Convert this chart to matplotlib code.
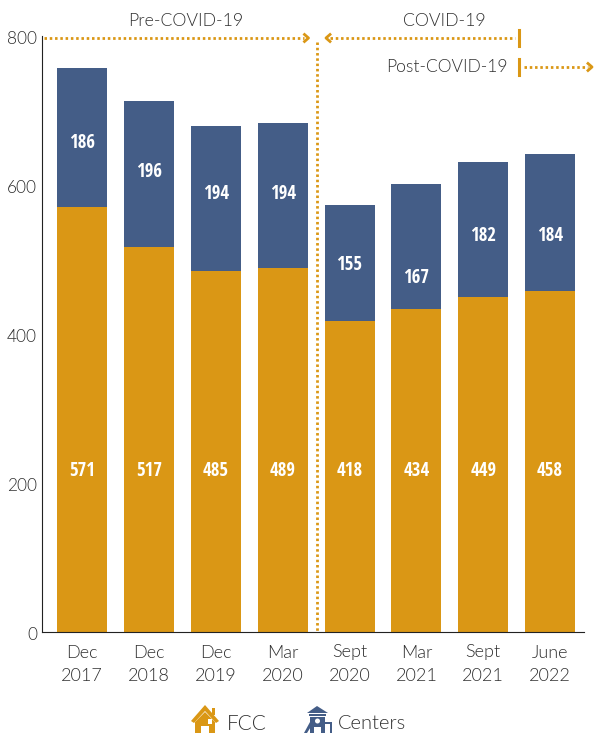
import matplotlib
matplotlib.use('Agg')
import matplotlib.pyplot as plt
from matplotlib.patches import Polygon, Rectangle, Circle
from matplotlib.transforms import ScaledTranslation

plt.rcParams['font.family'] = ['Lato', 'DejaVu Sans']

months = ['Dec\n2017', 'Dec\n2018', 'Dec\n2019', 'Mar\n2020', 'Sept\n2020', 'Mar\n2021', 'Sept\n2021', 'June\n2022']
fcc = [571, 517, 485, 489, 418, 434, 449, 458]
centers = [186, 196, 194, 194, 155, 167, 182, 184]

GOLD = '#DA9715'
BLUE = '#445D87'
TEXT = '#303030'
W, H = 594, 735
light = dict(fontweight=300, color=TEXT)
bold = dict(family='Open Sans Condensed', fontweight='bold', stretch='condensed', color='white', ha='center', va='center', fontsize=13.5)

# label heights as placed in the original (not centred in the segments)
fcc_label_y = 216.5
center_label_y = [656.5, 617.5, 588, 588, 492, 474.5, 532, 532]

fig = plt.figure(figsize=(W / 100, H / 100), dpi=100)
ax = fig.add_axes([42 / W, 1 - 632 / H, (584 - 42) / W, (632 - 36) / H])

x = list(range(len(months)))
ax.bar(x, fcc, width=0.748, color=GOLD)
ax.bar(x, centers, width=0.748, bottom=fcc, color=BLUE)

for i in x:
    ax.text(i, fcc_label_y, str(fcc[i]), **bold)
    ax.text(i, center_label_y[i], str(centers[i]), **bold)

ax.set_xlim(-0.6, 7.507)
ax.set_ylim(0, 800)
ax.set_yticks([0, 200, 400, 600, 800])
ax.set_xticks(x)
ax.set_xticklabels(months, fontsize=13, linespacing=1.55, **light)
ax.tick_params(axis='x', length=0, pad=9)
ax.tick_params(axis='y', length=0, pad=3.5)
shift = ScaledTranslation(0, -1.5 / 100, fig.dpi_scale_trans)
for t in ax.get_yticklabels():
    t.set_fontsize(12.5)
    t.set_fontweight(300)
    t.set_color(TEXT)
    t.set_transform(t.get_transform() + shift)
ax.spines['top'].set_visible(False)
ax.spines['right'].set_visible(False)
ax.spines['left'].set_color('#222222')
ax.spines['bottom'].set_color('#222222')

# overlay in pixel coords for the period markers and legend icons
ov = fig.add_axes([0, 0, 1, 1], facecolor='none')
ov.set_xlim(0, W)
ov.set_ylim(H, 0)
ov.axis('off')

dots = dict(color=GOLD, lw=2, linestyle=(0, (0.9, 1.0)))
ov.plot([44, 304], [38, 38], **dots)
ov.plot([330, 515], [38, 38], **dots)
ov.plot([524, 588], [67, 67], **dots)
ov.plot([317, 317], [42, 632], **dots)
ov.plot([304.5, 308.5, 304.5], [34.5, 38, 41.5], color=GOLD, lw=2)
ov.plot([330, 326, 330], [34.5, 38, 41.5], color=GOLD, lw=2)
ov.plot([588, 592, 588], [63.5, 67, 70.5], color=GOLD, lw=2)
ov.plot([519, 519], [30, 46], color=GOLD, lw=2.2)
ov.plot([519, 519], [59, 75], color=GOLD, lw=2.2)

ov.text(186, 20.5, 'Pre-COVID-19', fontsize=12.8, ha='center', va='center', **light)
ov.text(444, 20.5, 'COVID-19', fontsize=12.8, ha='center', va='center', **light)
ov.text(447, 67, 'Post-COVID-19', fontsize=12.6, ha='center', va='center', **light)

# house icon
ov.add_patch(Polygon([[191, 721], [205, 705], [219, 721], [216, 723], [205, 711], [194, 723]], color=GOLD, lw=0))
ov.add_patch(Polygon([[195, 722], [205, 712], [215, 722], [215, 733], [209, 733], [209, 726], [201, 726], [201, 733], [195, 733]], color=GOLD, lw=0))
ov.add_patch(Rectangle((212, 708), 3, 7, color=GOLD, lw=0))
ov.add_patch(Rectangle((207.5, 719), 4.5, 4.5, color='white', lw=0))

# playground icon
ov.add_patch(Polygon([[307, 713], [317, 706], [328, 713]], color=BLUE, lw=0))
ov.add_patch(Rectangle((309, 714), 17, 2, color=BLUE, lw=0))
ov.add_patch(Polygon([[310, 717], [325, 717], [325, 733], [321, 733], [321, 727], [314, 727], [314, 733], [310, 733]], color=BLUE, lw=0))
ov.add_patch(Polygon([[310, 722], [304, 733], [307, 733], [312, 725]], color=BLUE, lw=0))
ov.add_patch(Rectangle((325, 722), 7, 2, color=BLUE, lw=0))
ov.add_patch(Rectangle((330, 722), 2, 11, color=BLUE, lw=0))
ov.add_patch(Circle((317.5, 721), 2.5, color='white', lw=0))

ov.text(227, 723.5, 'FCC', fontsize=15, ha='left', va='center', **light)
ov.text(338, 723.5, 'Centers', fontsize=14.5, ha='left', va='center', **light)

fig.savefig('out.png', dpi=100)
